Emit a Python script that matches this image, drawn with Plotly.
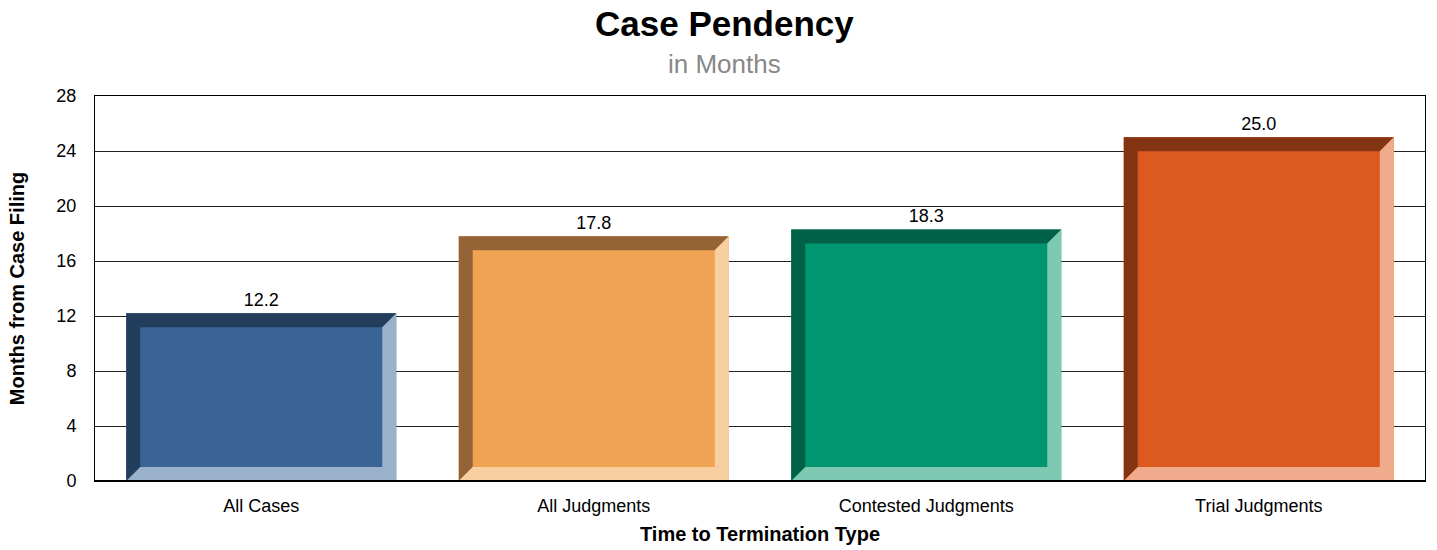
import plotly.graph_objects as go

categories = ["All Cases", "All Judgments", "Contested Judgments", "Trial Judgments"]
months = [12.2, 17.8, 18.3, 25.0]
face_colors = ["#3A6496", "#F0A353", "#009670", "#DC5920"]
dark_colors = ["#233D5C", "#946336", "#006147", "#833513"]
light_colors = ["#9AB1CB", "#F8CFA0", "#7DC9B2", "#F0AA8C"]
y_ticks = [0, 4, 8, 12, 16, 20, 24, 28]

BAR_WIDTH = 0.812
BEVEL_X = 0.042   # in category units
BEVEL_Y = 1.02    # in months

W, H = 1437, 550
M_L, M_R, M_T, M_B = 95, 12, 96, 69
font = "Liberation Sans, Arial, sans-serif"

fig = go.Figure()

xs = list(range(len(categories)))
fig.add_trace(go.Bar(
    x=xs, y=months, width=BAR_WIDTH,
    marker=dict(color=face_colors, line=dict(width=0)),
    text=[f"{v:.1f}" for v in months], textposition="outside",
    textfont=dict(family=font, size=18, color="#000000"),
    cliponaxis=False, hoverinfo="skip", showlegend=False,
))

# bevel edges: dark on top/left, light on bottom/right
hw = BAR_WIDTH / 2
for x, v, dk, lt in zip(xs, months, dark_colors, light_colors):
    l, r = x - hw, x + hw
    il, ir = l + BEVEL_X, r - BEVEL_X
    fig.add_trace(go.Scatter(
        x=[l, l, r, ir, il, il, l], y=[0, v, v, v - BEVEL_Y, v - BEVEL_Y, BEVEL_Y, 0],
        fill="toself", fillcolor=dk, mode="lines", line=dict(width=0, color=dk),
        hoverinfo="skip", showlegend=False,
    ))
    fig.add_trace(go.Scatter(
        x=[l, r, r, ir, ir, il, l], y=[0, 0, v, v - BEVEL_Y, BEVEL_Y, BEVEL_Y, 0],
        fill="toself", fillcolor=lt, mode="lines", line=dict(width=0, color=lt),
        hoverinfo="skip", showlegend=False,
    ))

fig.update_layout(
    width=W, height=H,
    margin=dict(l=M_L, r=M_R, t=M_T, b=M_B, autoexpand=False),
    paper_bgcolor="white", plot_bgcolor="white",
    font=dict(family=font, color="#000000"),
    xaxis=dict(
        range=[-0.5, 3.5], tickvals=xs, ticktext=categories,
        tickfont=dict(size=18), showgrid=False, zeroline=False,
        showline=True, linecolor="#000000", linewidth=1, mirror=True,
        ticks="", ticklabelstandoff=8, automargin=False,
        title=dict(text="<b>Time to Termination Type</b>", font=dict(size=20), standoff=12),
    ),
    yaxis=dict(
        range=[0, 28], tickvals=y_ticks, tickfont=dict(size=18),
        showgrid=True, gridcolor="#222222", gridwidth=1, zeroline=False,
        showline=True, linecolor="#000000", linewidth=1, mirror=True,
        ticks="", ticklabelstandoff=14, automargin=False,
        title=dict(text="<b>Months from Case Filing</b>", font=dict(size=20), standoff=26),
    ),
)

# heading text placed in pixel terms relative to the plot area
plot_w = W - M_L - M_R
plot_h = H - M_T - M_B
def px(pixel_x):
    return (pixel_x - M_L) / plot_w
def py(pixel_y):
    return (H - M_B - pixel_y) / plot_h

fig.add_annotation(text="<b>Case Pendency</b>", x=px(W / 2 + 6), y=py(23), xref="paper", yref="paper",
                   showarrow=False, font=dict(size=35, family=font, color="#000000"),
                   xanchor="center", yanchor="middle")
fig.add_annotation(text="in Months", x=px(W / 2 + 6), y=py(64), xref="paper", yref="paper",
                   showarrow=False, font=dict(size=26, family=font, color="#888888"),
                   xanchor="center", yanchor="middle")
# bottom axis line slightly heavier
fig.add_shape(type="line", xref="paper", yref="y", x0=0, x1=1, y0=0, y1=0,
              line=dict(color="#000000", width=2))

fig.write_html("out.html")
